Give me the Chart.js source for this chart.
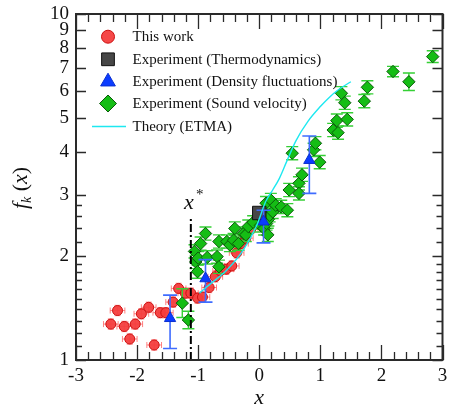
<!DOCTYPE html>
<html><head><meta charset="utf-8">
<script src="https://cdn.jsdelivr.net/npm/chart.js@4.4.1/dist/chart.umd.min.js"></script>
<style>html,body{margin:0;padding:0;background:#fff}#wrap{width:453px;height:409px;position:relative}</style>
</head><body><div id="wrap"><canvas id="c" width="453" height="409"></canvas></div>
<script>
// ---------- data ----------
const thisWorkX = [-2.43,-2.32,-2.21,-2.12,-2.03,-1.93,-1.81,-1.72,-1.62,-1.53,-1.41,-1.32,-1.21,-1.12,-1.01,-0.93,-0.82,-0.72,-0.64,-0.54,-0.45,-0.37,-0.30,-0.22,-0.14,-0.07,0.00];
const thisWorkY = [1.27,1.39,1.25,1.15,1.27,1.36,1.42,1.105,1.37,1.37,1.47,1.61,1.56,1.56,1.51,1.52,1.62,1.74,1.81,1.83,1.87,2.04,2.17,2.25,2.39,2.48,2.57];

const thermoX = [0.00];
const thermoY = [2.66];

const densX  = [-1.46,-0.88,0.07,0.82];
const densY  = [1.32,1.72,2.51,3.78];
const densLo = [1.08,1.47,2.18,3.03];
const densHi = [1.54,1.95,2.71,4.44];

const soundX = [-1.26,-1.16,-1.06,-1.04,-1.01,-1.00,-0.96,-0.88,-0.85,-0.69,-0.66,-0.66,-0.53,-0.48,-0.42,-0.40,-0.34,-0.26,-0.22,-0.18,-0.10,
  0.02,0.05,0.08,0.10,0.11,0.12,0.14,0.15,0.17,0.19,0.22,0.27,0.36,0.46,
  0.49,0.54,0.65,0.65,0.70,0.89,0.92,0.99,1.21,1.27,1.29,1.44,1.345,1.40,1.72,1.77,2.19,2.45,2.84];
const soundY = [1.46,1.305,2.06,1.92,1.80,1.97,2.17,2.32,1.98,1.99,2.20,1.86,2.20,2.15,2.22,2.40,2.17,2.32,2.30,2.43,2.50,
  2.45,2.58,2.40,2.65,2.84,2.48,2.30,2.55,2.62,2.90,2.68,2.80,2.77,2.71,
  3.10,3.96,3.24,3.03,3.43,4.05,4.23,3.73,4.62,4.92,4.54,4.96,5.90,5.54,5.60,6.14,6.82,6.37,7.53];
const soundErr = [0.10,0.06,0.045,0.045,0.045,0.045,0.045,0.045,0.045,0.045,0.045,0.045,0.045,0.045,0.045,0.045,0.045,0.045,0.045,0.045,0.045,
  0.045,0.045,0.045,0.045,0.045,0.045,0.045,0.045,0.045,0.045,0.045,0.045,0.045,0.045,
  0.045,0.045,0.045,0.045,0.045,0.045,0.045,0.045,0.045,0.045,0.045,0.045,0.045,0.045,0.045,0.045,0.035,0.06,0.04];

const theoryX = [-0.98,-0.80,-0.53,-0.26,-0.05,0.11,0.22,0.33,0.45,0.60,0.80,1.00,1.15,1.30,1.50];
const theoryY = [1.56,1.66,1.82,2.08,2.43,2.88,3.10,3.35,3.75,4.30,4.90,5.40,5.75,6.05,6.37];

const xStar = -1.12;
const xStarTop = 2.6;

const xTickLabels = [-3,-2,-1,0,1,2,3];
const yTickLabels = [1,2,3,4,5,6,7,8,9,10];
const yMinorTicks = [1.1,1.2,1.3,1.4,1.5,1.6,1.7,1.8,1.9,2.2,2.4,2.6,2.8];

const seriesNames = ['This work','Experiment (Thermodynamics)','Experiment (Density fluctuations)','Experiment (Sound velocity)','Theory (ETMA)'];

// ---------- build ----------
const zip = (xs, ys) => xs.map((x, i) => ({x: x, y: ys[i]}));
const xMinor = [];
for (let k = 0; k <= 30; k++) xMinor.push(-3 + k * 0.2);

const SERIF = "'Liberation Serif','Times New Roman',serif";
const INK = '#2a2a2a';

const datasets = [
  {label: seriesNames[0], data: zip(thisWorkX, thisWorkY), pointStyle: 'circle', pointRadius: 5,
   backgroundColor: 'rgba(244,62,62,0.95)', borderColor: '#cc1010', borderWidth: 1, order: 5,
   err: {type: 'xy', dx: 0.12, rel: 0.035, color: 'rgba(255,100,100,0.8)', cap: 3}},
  {label: seriesNames[1], data: zip(thermoX, thermoY), pointStyle: 'rect', pointRadius: 9.5,
   backgroundColor: '#474747', borderColor: '#111', borderWidth: 1, order: 3},
  {label: seriesNames[2], data: zip(densX, densY), pointStyle: 'triangle', pointRadius: 6.5,
   backgroundColor: '#0b3cff', borderColor: '#0a2fd0', borderWidth: 1, order: 2,
   err: {type: 'abs', lo: densLo, hi: densHi, color: '#3f6cff', cap: 7, width: 1.6}},
  {label: seriesNames[3], data: zip(soundX, soundY), pointStyle: 'rectRot', pointRadius: 6.2,
   backgroundColor: '#15bd15', borderColor: '#0a5a0a', borderWidth: 1, order: 4,
   err: {type: 'rel', rel: soundErr, color: '#35d035', cap: 6, width: 1.4}},
  {label: seriesNames[4], data: zip(theoryX, theoryY), showLine: true, pointRadius: 0,
   borderColor: '#1ee8f0', borderWidth: 1.4, cubicInterpolationMode: 'monotone', order: 1},
  {label: 'x*', data: [{x: xStar, y: 1}, {x: xStar, y: xStarTop}], showLine: true, pointRadius: 0,
   borderColor: '#000', borderWidth: 2, borderDash: [8, 3, 2, 3], order: 0}
];

const errPlugin = {
  id: 'errbars',
  beforeDatasetDraw(chart, args) {
    const ds = chart.data.datasets[args.index];
    if (!ds.err) return;
    const e = ds.err, xs = chart.scales.x, ys = chart.scales.y, ctx = chart.ctx;
    ctx.save();
    ctx.strokeStyle = e.color; ctx.lineWidth = e.width || 1;
    ds.data.forEach((p, i) => {
      const px = xs.getPixelForValue(p.x);
      let lo, hi;
      if (e.type === 'abs') { lo = e.lo[i]; hi = e.hi[i]; }
      else if (e.type === 'rel') { lo = p.y / (1 + e.rel[i]); hi = p.y * (1 + e.rel[i]); }
      else { lo = p.y / (1 + e.rel); hi = p.y * (1 + e.rel); }
      const pl = ys.getPixelForValue(lo), ph = ys.getPixelForValue(hi);
      ctx.beginPath();
      ctx.moveTo(px, pl); ctx.lineTo(px, ph);
      ctx.moveTo(px - e.cap, pl); ctx.lineTo(px + e.cap, pl);
      ctx.moveTo(px - e.cap, ph); ctx.lineTo(px + e.cap, ph);
      if (e.type === 'xy') {
        const py = ys.getPixelForValue(p.y);
        const x1 = xs.getPixelForValue(p.x - e.dx), x2 = xs.getPixelForValue(p.x + e.dx);
        ctx.moveTo(x1, py); ctx.lineTo(x2, py);
        ctx.moveTo(x1, py - e.cap); ctx.lineTo(x1, py + e.cap);
        ctx.moveTo(x2, py - e.cap); ctx.lineTo(x2, py + e.cap);
      }
      ctx.stroke();
    });
    ctx.restore();
  }
};

function drawMarker(ctx, style, x, y, r, fill, stroke) {
  ctx.beginPath();
  if (style === 'circle') ctx.arc(x, y, r, 0, Math.PI * 2);
  else if (style === 'rect') { const s = r * Math.SQRT1_2; ctx.rect(x - s, y - s, 2 * s, 2 * s); }
  else if (style === 'triangle') {
    ctx.moveTo(x, y - r); ctx.lineTo(x + r * 0.866, y + r * 0.5); ctx.lineTo(x - r * 0.866, y + r * 0.5); ctx.closePath();
  } else if (style === 'rectRot') {
    ctx.moveTo(x, y - r); ctx.lineTo(x + r, y); ctx.lineTo(x, y + r); ctx.lineTo(x - r, y); ctx.closePath();
  }
  ctx.fillStyle = fill; ctx.fill();
  ctx.strokeStyle = stroke; ctx.lineWidth = 1; ctx.stroke();
}

const decoPlugin = {
  id: 'deco',
  afterDraw(chart) {
    const ctx = chart.ctx, a = chart.chartArea, xs = chart.scales.x, ys = chart.scales.y;
    ctx.save();
    // ticks (inward, all four sides)
    ctx.strokeStyle = INK; ctx.lineWidth = 1.3;
    ctx.beginPath();
    xMinor.forEach(v => {
      const major = Math.abs(v - Math.round(v)) < 1e-6;
      const L = major ? 15 : 8;
      const px = Math.round(xs.getPixelForValue(v)) + 0.5;
      ctx.moveTo(px, a.bottom); ctx.lineTo(px, a.bottom - L);
      ctx.moveTo(px, a.top); ctx.lineTo(px, a.top + L);
    });
    yTickLabels.concat(yMinorTicks).forEach(v => {
      const major = yTickLabels.indexOf(v) >= 0;
      const L = major ? 10 : 6;
      const py = Math.round(ys.getPixelForValue(v)) + 0.5;
      ctx.moveTo(a.left, py); ctx.lineTo(a.left + L, py);
      ctx.moveTo(a.right, py); ctx.lineTo(a.right - L, py);
    });
    ctx.stroke();
    // frame
    ctx.lineWidth = 2;
    ctx.strokeRect(a.left, a.top, a.right - a.left, a.bottom - a.top);

    // x* label
    ctx.fillStyle = '#111';
    ctx.textBaseline = 'middle'; ctx.textAlign = 'center';
    const sx = xs.getPixelForValue(xStar), sy = ys.getPixelForValue(2.84);
    ctx.font = 'italic 22px ' + SERIF;
    ctx.fillText('x', sx - 2, sy);
    ctx.font = '15px ' + SERIF;
    ctx.fillText('*', sx + 9, sy - 8);

    // axis titles
    ctx.font = 'italic 22px ' + SERIF;
    ctx.fillText('x', (a.left + a.right) / 2, 398);
    ctx.save();
    ctx.translate(21, 188);
    ctx.rotate(-Math.PI / 2);
    const parts = [
      {t: 'f', f: 'italic 22px ' + SERIF, dy: 0},
      {t: 'k', f: 'italic 14px ' + SERIF, dy: 6},
      {t: ' (', f: '22px ' + SERIF, dy: 0},
      {t: 'x', f: 'italic 22px ' + SERIF, dy: 0},
      {t: ')', f: '22px ' + SERIF, dy: 0}
    ];
    let tw = 0;
    parts.forEach(p => { ctx.font = p.f; p.w = ctx.measureText(p.t).width; tw += p.w; });
    let cx = -tw / 2;
    ctx.textAlign = 'left';
    parts.forEach(p => { ctx.font = p.f; ctx.fillText(p.t, cx, p.dy); cx += p.w; });
    ctx.restore();

    // legend
    const rows = [36.7, 59.3, 81.7, 103.5, 126.5];
    const mR = [6.5, 9, 8.5, 8.5];
    ctx.textAlign = 'left'; ctx.textBaseline = 'middle';
    for (let i = 0; i < 5; i++) {
      const ds = chart.data.datasets[i];
      const y = rows[i];
      if (i < 4) drawMarker(ctx, ds.pointStyle, 108, y, mR[i], ds.backgroundColor, ds.borderColor);
      else {
        ctx.strokeStyle = ds.borderColor; ctx.lineWidth = 1.4;
        ctx.beginPath(); ctx.moveTo(92, y); ctx.lineTo(126, y); ctx.stroke();
      }
      ctx.fillStyle = '#111';
      ctx.font = '15px ' + SERIF;
      ctx.fillText(ds.label, 132.5, y + 0.5);
    }
    ctx.restore();
  }
};

new Chart(document.getElementById('c'), {
  type: 'scatter',
  data: {datasets: datasets},
  options: {
    responsive: false, animation: false, devicePixelRatio: 1,
    layout: {padding: {left: 0, right: 3, top: 14, bottom: 0}},
    plugins: {legend: {display: false}, tooltip: {enabled: false}},
    scales: {
      x: {
        type: 'linear', min: -3, max: 3,
        afterBuildTicks: s => { s.ticks = xTickLabels.map(v => ({value: v})); },
        afterFit: s => { s.height = 49; s.paddingLeft = 0; s.paddingRight = 0; },
        grid: {display: false, drawTicks: false}, border: {display: false},
        ticks: {font: {family: SERIF, size: 19}, color: '#111', padding: 5, maxRotation: 0, autoSkip: false,
          callback: v => String(Math.round(v))}
      },
      y: {
        type: 'logarithmic', min: 1, max: 10,
        afterBuildTicks: s => { s.ticks = yTickLabels.map(v => ({value: v})); },
        afterFit: s => { s.width = 76; s.paddingTop = 0; s.paddingBottom = 0; },
        grid: {display: false, drawTicks: false}, border: {display: false},
        ticks: {font: {family: SERIF, size: 19}, color: '#111', padding: 7, autoSkip: false,
          callback: v => String(Math.round(v))}
      }
    }
  },
  plugins: [errPlugin, decoPlugin]
});
</script></body></html>
